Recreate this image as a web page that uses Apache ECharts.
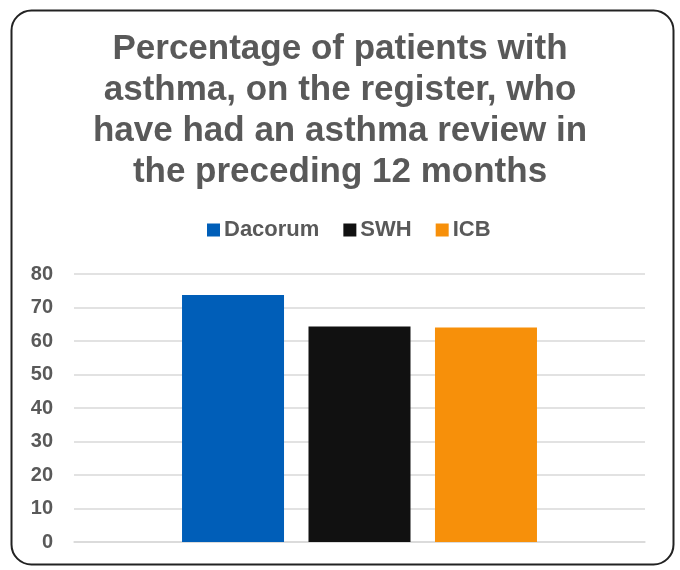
<!DOCTYPE html>
<html><head><meta charset="utf-8">
<script src="https://cdn.jsdelivr.net/npm/echarts@6/dist/echarts.min.js"></script>
<style>html,body{margin:0;padding:0;background:#fff}#c{width:680px;height:570px}</style>
</head><body><div id="c"></div>
<script>
const categories = ['Percentage'];
const seriesNames = ['Dacorum', 'SWH', 'ICB'];
const seriesValues = [73.7, 64.3, 64.0];
const seriesColors = ['#005EB8', '#111111', '#F7900A'];
const yTicks = [0, 80, 10];

const chart = echarts.init(document.getElementById('c'));
chart.setOption({
  animation: false,
  graphic: [{
    type: 'rect', left: 9, top: 8,
    shape: { width: 662, height: 554, r: 20 },
    style: { fill: 'none', stroke: '#222', lineWidth: 2 }, z: -1
  }],
  title: {
    text: 'Percentage of patients with\nasthma, on the register, who\nhave had an asthma review in\nthe preceding 12 months',
    left: 'center', top: 24,
    textStyle: { fontFamily: 'Liberation Sans', fontWeight: 'bold', fontSize: 35, color: '#595959', lineHeight: 41 }
  },
  legend: {
    top: 214, left: 202, itemWidth: 13, itemHeight: 13, itemGap: 24,
    icon: 'rect',
    textStyle: { fontFamily: 'Liberation Sans', fontWeight: 'bold', fontSize: 22, color: '#595959', padding: [0,0,0,-1] },
    data: seriesNames
  },
  grid: { left: 74, right: 35, top: 274, bottom: 28 },
  xAxis: {
    type: 'category', data: categories,
    axisLine: { show: true, lineStyle: { color: '#d9d9d9', width: 1.5 } },
    axisTick: { show: false }, axisLabel: { show: false }
  },
  yAxis: {
    type: 'value', min: yTicks[0], max: yTicks[1], interval: yTicks[2],
    axisLine: { show: false }, axisTick: { show: false },
    axisLabel: { fontFamily: 'Liberation Sans', fontWeight: 'bold', fontSize: 20, color: '#595959', margin: 21 },
    splitLine: { lineStyle: { color: '#d9d9d9', width: 1.5 } }
  },
  series: seriesNames.map((n, i) => ({
    name: n, type: 'bar', data: [seriesValues[i]],
    barWidth: 102, barGap: '24%',
    itemStyle: { color: seriesColors[i] }
  }))
});
</script></body></html>
